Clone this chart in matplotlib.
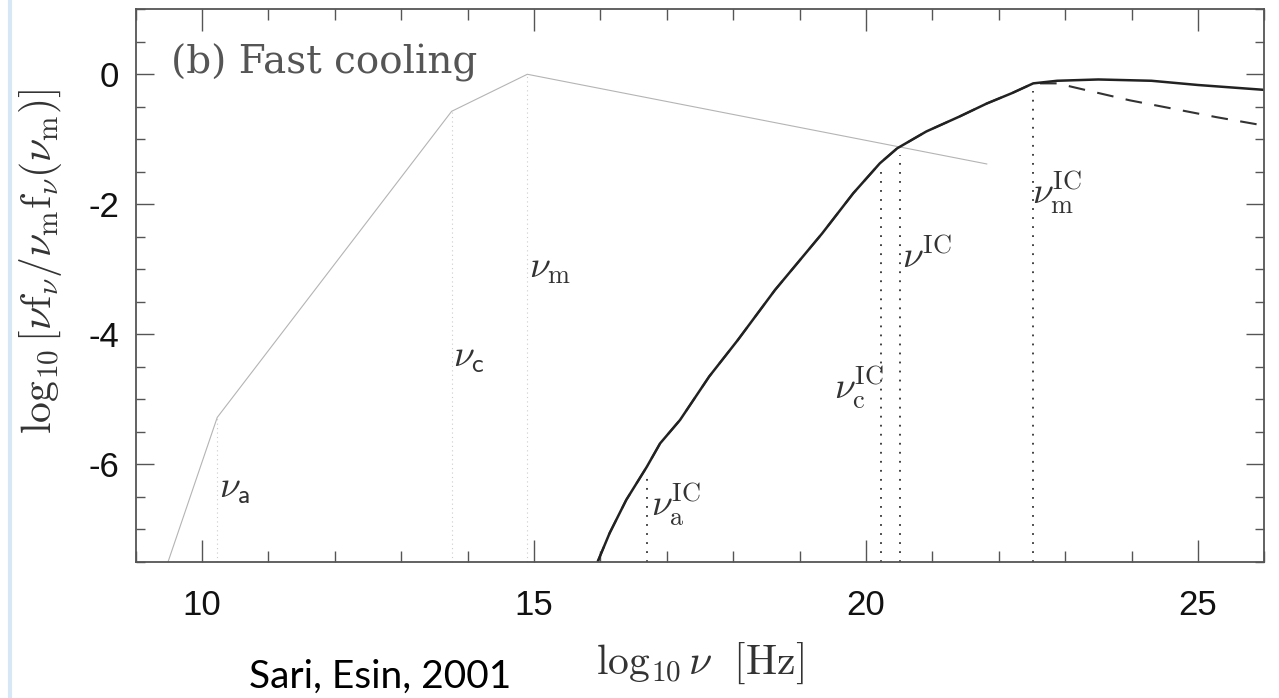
import numpy as np
import matplotlib
matplotlib.use("Agg")
import matplotlib.pyplot as plt
from matplotlib.lines import Line2D
from matplotlib.ticker import MultipleLocator

plt.rcParams['mathtext.fontset'] = 'cm'
plt.rcParams['axes.unicode_minus'] = False

# synchrotron spectrum (thin grey broken power law)
sync_x = [9.49, 10.23, 13.76, 14.90, 21.82]
sync_y = [-7.50, -5.28, -0.57, 0.00, -1.38]
sync_breaks = [10.23, 13.76, 14.90]
sync_labels = [r'$\nu_{\mathsf{a}}$', r'$\nu_{\mathsf{c}}$', r'$\nu_{\rm m}$']
sync_label_pos = [(10.26, -6.52), (13.78, -4.50), (14.92, -3.13)]

# inverse Compton component: rising part shared by both curves
ic_x = [15.96, 16.14, 16.39, 16.70, 16.90, 17.20, 17.64, 18.07, 18.63, 19.34,
        19.81, 20.21, 20.47, 20.91, 21.41, 21.82, 22.20, 22.52]
ic_y = [-7.50, -7.06, -6.55, -6.04, -5.68, -5.32, -4.65, -4.09, -3.32, -2.45,
        -1.83, -1.37, -1.14, -0.88, -0.65, -0.45, -0.29, -0.14]
# high-frequency tails
solid_tail_x = [22.88, 23.50, 24.30, 25.00, 26.00]
solid_tail_y = [-0.10, -0.08, -0.10, -0.165, -0.24]
dash_tail_x = [22.88, 23.97, 25.28, 26.00]
dash_tail_y = [-0.14, -0.40, -0.66, -0.79]

ic_breaks = [16.70, 20.22, 20.51, 22.52]
ic_labels = [r'$\nu_{\rm a}^{\rm IC}$', r'$\nu_{\rm c}^{\rm IC}$',
             r'$\nu^{\rm IC}$', r'$\nu_{\rm m}^{\rm IC}$']
ic_label_pos = [(16.77, -6.81), (19.52, -5.01), (20.55, -2.98), (22.50, -2.01)]

fig = plt.figure(figsize=(12.79, 6.98), dpi=100)
ax = fig.add_axes((0.106, 0.1953, 0.8825, 0.7914))

solid_x = ic_x + solid_tail_x
solid_y = ic_y + solid_tail_y
dash_x = ic_x + dash_tail_x
dash_y = ic_y + dash_tail_y

ax.plot(sync_x, sync_y, color='#b4b4b4', lw=0.8)
ax.plot(dash_x, dash_y, color='#333333', lw=1.5, ls=(0, (8, 6)))
ax.plot(solid_x, solid_y, color='#222222', lw=1.8, solid_joinstyle='round')

ymin = -7.5
for xb in sync_breaks:
    ax.plot([xb, xb], [ymin, np.interp(xb, sync_x, sync_y)],
            color='#cccccc', lw=0.8, ls=(0, (1, 3)))
for xb in ic_breaks:
    ax.plot([xb, xb], [ymin, np.interp(xb, solid_x, solid_y) - 0.12],
            color='#333333', lw=1.3, ls=(0, (1, 4)))

for lab, (lx, ly) in zip(sync_labels + ic_labels, sync_label_pos + ic_label_pos):
    ax.text(lx, ly, lab, fontsize=27, color='#333333', ha='left', va='baseline')

ax.text(9.54, 0.005, '(b) Fast cooling', fontsize=28, color='#555555',
        family='DejaVu Serif', ha='left', va='baseline')

ax.set_xlim(9, 26)
ax.set_ylim(-7.5, 1)
ax.xaxis.set_major_locator(MultipleLocator(5))
ax.xaxis.set_minor_locator(MultipleLocator(1))
ax.yaxis.set_major_locator(MultipleLocator(2))
ax.yaxis.set_minor_locator(MultipleLocator(0.5))
ax.tick_params(which='both', direction='in', top=True, right=True,
               color='#555555', width=1.0)
ax.tick_params(axis='x', which='major', length=15.5, pad=20)
ax.tick_params(axis='x', which='minor', length=7.7)
ax.tick_params(axis='y', which='major', length=13, pad=12)
ax.tick_params(axis='y', which='minor', length=6.2)
for lab in ax.get_xticklabels() + ax.get_yticklabels():
    lab.set_family(['Liberation Sans Narrow', 'Liberation Sans'])
    lab.set_fontsize(25)
    lab.set_color('#111111')
for sp in ax.spines.values():
    sp.set_color('#555555')
    sp.set_linewidth(1.3)

fig.text(0.032, 0.625,
         r'$\log_{10}\left[\nu\mathrm{f}_\nu/\nu_{\rm m}\mathrm{f}_\nu(\nu_{\rm m})\right]$',
         rotation=90, fontsize=30, color='#333333', ha='center', va='center')
fig.text(0.547, 0.050, r'$\log_{10}\nu\ \ [\mathrm{Hz}]$', fontsize=30,
         color='#333333', ha='center', va='center')
fig.text(0.195, 0.0143, 'Sari, Esin, 2001', fontsize=28, family='Lato',
         color='black', ha='left', va='baseline')

# slide edge strip on the left
fig.add_artist(Line2D([0.008, 0.008], [0, 1], transform=fig.transFigure,
                      color='#d8e7f6', lw=3))

fig.savefig('out.png', dpi=100)
